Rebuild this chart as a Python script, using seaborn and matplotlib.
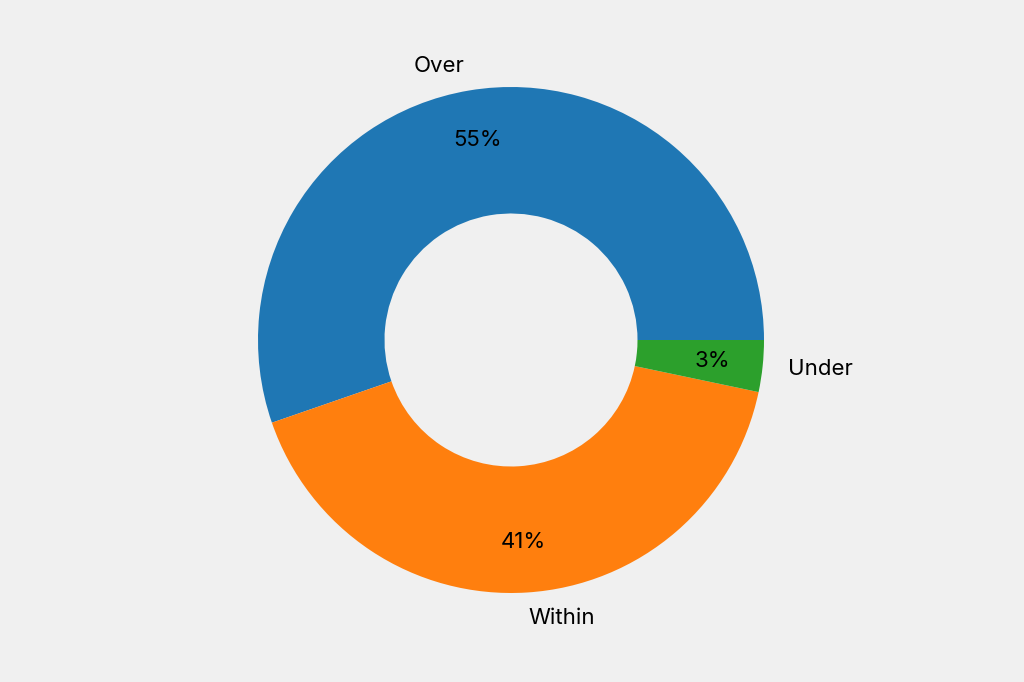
import matplotlib
matplotlib.use("Agg")
import matplotlib.pyplot as plt
import seaborn as sns

labels = ["Over", "Within", "Under"]
values = [55.3, 41.4, 3.3]

sns.set_theme(style="white")
plt.rcParams['font.family'] = ['Inter', 'DejaVu Sans']
colors = sns.color_palette("tab10", 3)

fig = plt.figure(figsize=(10.24, 6.82), dpi=100)
fig.patch.set_facecolor("#f0f0f0")
ax = fig.add_axes([0, 0, 1, 1])
ax.set_facecolor("#f0f0f0")
wedges, texts, autotexts = ax.pie(values, labels=labels, colors=colors, autopct="%1.0f%%",
       startangle=0, counterclock=True, pctdistance=0.8, labeldistance=1.1,
       wedgeprops=dict(width=0.5, linewidth=0), textprops=dict(fontsize=16, color="black"))
ax.set_aspect("auto")
ax.set_xlim(-511/253, 513/253)
ax.set_ylim(-342/253, 340/253)
ax.axis("off")
fig.savefig("out.png", facecolor=fig.get_facecolor())
